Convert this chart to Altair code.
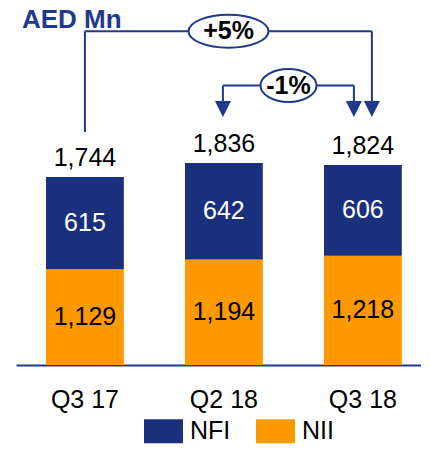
import altair as alt
import pandas as pd

# ---- data ----
categories = ["Q3 17", "Q2 18", "Q3 18"]
nii = [1129, 1194, 1218]
nfi = [615, 642, 606]
totals = [1744, 1836, 1824]
series = ["NFI", "NII"]
change_labels = ["+5%", "-1%"]
change_from = ["Q3 17", "Q2 18"]
change_to = ["Q3 18", "Q3 18"]

# ---- style / layout ----
NAVY = "#1B307C"
LINE = "#1F3A8C"
ORANGE = "#FF9900"
FONT = "Liberation Sans"
Y_MIN, Y_MAX = 490, 2870
W, H = 405, 357

# annotation levels (data units on the value axis)
HIGH = 2715
LOW = 2353
ARROW_BASE = 2250
ARROW_C = 2197
V1_BOTTOM = 2043

xs = alt.Scale(domain=categories, paddingInner=0.44, paddingOuter=0.177, align=0.61)
ys = alt.Scale(domain=[Y_MIN, Y_MAX], zero=False, nice=False)
xaxis = alt.Axis(domain=True, domainColor=LINE, domainWidth=2, ticks=False, tickSize=0,
                 labelFont=FONT, labelFontSize=25, labelColor="black", labelPadding=22,
                 labelAngle=0, grid=False, title=None)


def X(field="cat"):
    return alt.X(f"{field}:N", scale=xs, axis=xaxis, title=None, sort=categories)


def Y(field):
    return alt.Y(f"{field}:Q", scale=ys, axis=None)


rows = []
for c, a, b in zip(categories, nii, nfi):
    rows.append(dict(cat=c, series="NII", start=0, end=a, val=a, mid=(max(0, Y_MIN) + a) / 2))
    rows.append(dict(cat=c, series="NFI", start=a, end=a + b, val=b, mid=a + b / 2))
bar_df = pd.DataFrame(rows)
tot_df = pd.DataFrame({"cat": categories, "total": totals})

legend_box = "M-1,-0.62H1V0.62H-1Z"

bars = alt.Chart(bar_df).mark_bar(clip=True).encode(
    x=X(),
    y=Y("start"),
    y2="end:Q",
    color=alt.Color("series:N", scale=alt.Scale(domain=series, range=[NAVY, ORANGE]),
                    legend=alt.Legend(orient="none", legendX=128, legendY=403.5,
                                      direction="horizontal", title=None,
                                      symbolType=legend_box, symbolSize=1521,
                                      symbolStrokeWidth=0, symbolOpacity=1,
                                      labelFont=FONT, labelFontSize=25, labelColor="black",
                                      labelOffset=7, columnPadding=25, padding=0)),
)

tot_text = alt.Chart(tot_df).mark_text(dy=-11, baseline="alphabetic", font=FONT,
                                       fontSize=25, color="black").encode(
    x=X(), y=Y("total"), text=alt.Text("total:Q", format=","))

nfi_text = alt.Chart(bar_df).transform_filter(alt.datum.series == "NFI").mark_text(
    baseline="middle", font=FONT, fontSize=25, color="white").encode(
    x=X(), y=Y("mid"), text=alt.Text("val:Q", format=","))

nii_text = alt.Chart(bar_df).transform_filter(alt.datum.series == "NII").mark_text(
    baseline="middle", font=FONT, fontSize=25, color="black").encode(
    x=X(), y=Y("mid"), text=alt.Text("val:Q", format=","))


def vrule(cat, a, b, off):
    return alt.Chart(pd.DataFrame({"cat": [cat], "a": [a], "b": [b]})).mark_rule(
        color=LINE, strokeWidth=2, xOffset=off).encode(x=X(), y=Y("a"), y2="b:Q")


def hrule(c1, c2, lvl, off1, off2):
    return alt.Chart(pd.DataFrame({"cat": [c1], "c2": [c2], "a": [lvl]})).mark_rule(
        color=LINE, strokeWidth=2, xOffset=off1, x2Offset=off2).encode(
        x=X(), x2=alt.X2("c2"), y=Y("a"))


def arrow(cat, off):
    return alt.Chart(pd.DataFrame({"cat": [cat], "a": [ARROW_C]})).mark_point(
        shape="M-1,-1L1,-1L0,1Z", size=256, filled=True, fill=LINE, opacity=1,
        strokeWidth=0, xOffset=off).encode(x=X(), y=Y("a"))


def ellipse_path(r):
    k = 0.5523
    return (f"M-1,0C-1,{-r*k:.3f},{-k},{-r},0,{-r}C{k},{-r},1,{-r*k:.3f},1,0"
            f"C1,{r*k:.3f},{k},{r},0,{r}C{-k},{r},-1,{r*k:.3f},-1,0Z")


def badge(label, cat, off, lvl, width, height):
    d = pd.DataFrame({"cat": [cat], "a": [lvl], "t": [label]})
    e = alt.Chart(d).mark_point(shape=ellipse_path(height / width), size=width * width,
                                filled=True, fill="white", stroke=LINE, strokeWidth=2,
                                opacity=1, fillOpacity=1, strokeOpacity=1,
                                xOffset=off).encode(x=X(), y=Y("a"))
    t = alt.Chart(d).mark_text(font=FONT, fontSize=25, fontWeight="bold", color="black",
                               baseline="middle", align="center", xOffset=off).encode(
        x=X(), y=Y("a"), text="t:N")
    return [e, t]


title = alt.Chart(pd.DataFrame({"t": ["AED Mn"]})).mark_text(
    font=FONT, fontSize=26, fontWeight="bold", color=LINE, align="left",
    baseline="alphabetic").encode(x=alt.value(6), y=alt.value(20), text="t:N")

layers = [bars, tot_text, nfi_text, nii_text,
          # +5% bracket (Q3 17 -> Q3 18)
          vrule(change_from[0], V1_BOTTOM, HIGH, 0),
          hrule(change_from[0], change_to[0], HIGH, 0, 9),
          vrule(change_to[0], ARROW_BASE, HIGH, 9),
          arrow(change_to[0], 9),
          # -1% bracket (Q2 18 -> Q3 18)
          hrule(change_from[1], change_to[1], LOW, -1, -9),
          vrule(change_from[1], ARROW_BASE, LOW, -1),
          vrule(change_to[1], ARROW_BASE, LOW, -9),
          arrow(change_from[1], -1),
          arrow(change_to[1], -9)]
layers += badge(change_labels[0], "Q2 18", 4.6, HIGH, 80, 33)
layers += badge(change_labels[1], "Q2 18", 64.6, LOW, 56, 33)
layers.append(title)

chart = alt.layer(*layers).properties(
    width=W, height=H,
    autosize=alt.AutoSizeParams(type="none"),
    padding={"left": 8, "top": 0, "right": 0, "bottom": 80},
).configure_view(strokeWidth=0)

chart.save("out.html", embed_options={"renderer": "svg", "actions": False})
